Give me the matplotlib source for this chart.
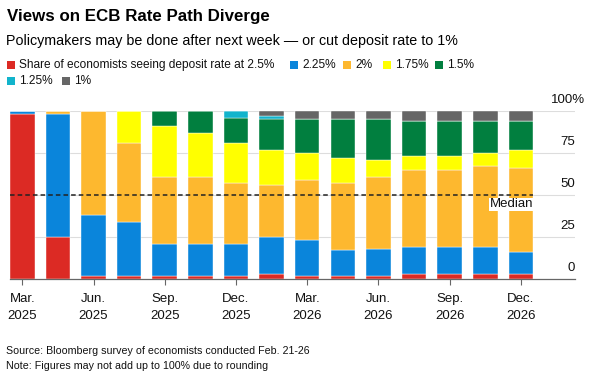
import numpy as np
import matplotlib
matplotlib.use("Agg")
import matplotlib.pyplot as plt
from matplotlib.patches import Rectangle
from matplotlib.transforms import ScaledTranslation

plt.rcParams["font.family"] = ["Liberation Sans", "DejaVu Sans"]

# ECB meetings, labels shown on every other one
meetings = ["Mar 2025", "Apr 2025", "Jun 2025", "Jul 2025", "Sep 2025", "Oct 2025",
            "Dec 2025", "Feb 2026", "Mar 2026", "Apr 2026", "Jun 2026", "Jul 2026",
            "Sep 2026", "Oct 2026", "Dec 2026"]
tick_labels = ["Mar.\n2025", "Jun.\n2025", "Sep.\n2025", "Dec.\n2025",
               "Mar.\n2026", "Jun.\n2026", "Sep.\n2026", "Dec.\n2026"]

rates = ["2.5%", "2.25%", "2%", "1.75%", "1.5%", "1.25%", "1%"]
rate_2_5 = [98, 25, 2, 2, 2, 2, 2, 3, 2, 2, 2, 3, 3, 3, 3]
rate_2_25 = [2, 73, 36, 32, 19, 19, 19, 22, 21, 15, 16, 16, 16, 16, 13]
rate_2 = [0, 2, 62, 47, 40, 40, 36, 31, 36, 40, 43, 46, 46, 48, 50]
rate_1_75 = [0, 0, 0, 19, 30, 26, 24, 21, 16, 15, 10, 8, 8, 8, 11]
rate_1_5 = [0, 0, 0, 0, 9, 13, 15, 18, 20, 23, 24, 21, 21, 19, 17]
rate_1_25 = [0, 0, 0, 0, 0, 0, 4, 2, 0, 0, 0, 0, 0, 0, 0]
rate_1 = [0, 0, 0, 0, 0, 0, 0, 3, 5, 5, 5, 6, 6, 6, 6]
median = 50

colors = ["#dc2a24", "#0a85db", "#fdb82f", "#ffff00", "#017f3f", "#12b4cc", "#666666"]

fig = plt.figure(figsize=(5.98, 3.86), dpi=100)
W, H = 598, 386
ax = fig.add_axes([10 / W, 107 / H, 565 / W, 168 / H])

x = np.arange(len(meetings))
series = [rate_2_5, rate_2_25, rate_2, rate_1_75, rate_1_5, rate_1_25, rate_1]
bottom = np.zeros(len(meetings))
for vals, c in zip(series, colors):
    vals = np.array(vals, dtype=float)
    ax.bar(x, vals, width=0.69, bottom=bottom, color=c, edgecolor="white",
           linewidth=0.3, zorder=2)
    bottom += vals

xmax = 15.52
ax.set_xlim(-0.345, xmax)
ax.set_ylim(0, 100)

# gridlines
for g in [25, 50, 75, 100]:
    ax.axhline(g, color="#dddddd", lw=0.8, zorder=1)
ax.hlines(median, -0.345, x[-1] + 0.345, colors="#222222", linestyles=(0, (3, 2)),
          lw=1.1, zorder=3)
ax.text(x[-1] + 0.345, median - 2, "Median", ha="right", va="top", fontsize=9.5,
        color="#111111", zorder=4,
        bbox=dict(facecolor="white", edgecolor="none", pad=0.5))

for s in ["top", "right", "left"]:
    ax.spines[s].set_visible(False)
ax.spines["bottom"].set_color("#666666")
ax.spines["bottom"].set_linewidth(0.9)
ax.set_yticks([])
ax.set_xticks(x[::2])
ax.set_xticklabels(tick_labels, fontsize=9.5, color="#111111", linespacing=1.55)
ax.tick_params(axis="x", length=4, color="#666666", pad=6)

# y labels on the right, above gridlines
for v in [0, 25, 50, 75]:
    ax.text(xmax, v + 3, str(v), ha="right", va="bottom", fontsize=9.5, color="#111111")
pct_shift = ax.transData + ScaledTranslation(0.105, 0, fig.dpi_scale_trans)
ax.text(xmax, 103, "100%", ha="right", va="bottom", fontsize=9.5, color="#111111",
        transform=pct_shift)

# titles
fig.text(7 / W, 1 - 16 / H, "Views on ECB Rate Path Diverge", fontsize=12.2,
         fontweight="bold", va="center", ha="left")
fig.text(6 / W, 1 - 41 / H, "Policymakers may be done after next week \u2014 or cut deposit rate to 1%",
         fontsize=10.3, va="center", ha="left")

# legend
legend_items = [("Share of economists seeing deposit rate at 2.5%", 7, 65),
                ("2.25%", 290, 65), ("2%", 343, 65), ("1.75%", 383, 65),
                ("1.5%", 435, 65), ("1.25%", 7, 81), ("1%", 62, 81)]
for (lab, lx, ly), c in zip(legend_items, colors):
    fig.patches.append(Rectangle((lx / W, 1 - (ly + 4) / H), 8 / W, 8 / H,
                                 transform=fig.transFigure, facecolor=c,
                                 edgecolor="none"))
    fig.text((lx + 12) / W, 1 - ly / H, lab, fontsize=8.6, va="center", ha="left",
             color="#111111")

fig.text(6 / W, 1 - 351 / H, "Source: Bloomberg survey of economists conducted Feb. 21-26",
         fontsize=7.7, va="center", ha="left", color="#111111")
fig.text(6 / W, 1 - 366 / H, "Note: Figures may not add up to 100% due to rounding",
         fontsize=7.7, va="center", ha="left", color="#111111")

fig.savefig("out.png", dpi=100)
